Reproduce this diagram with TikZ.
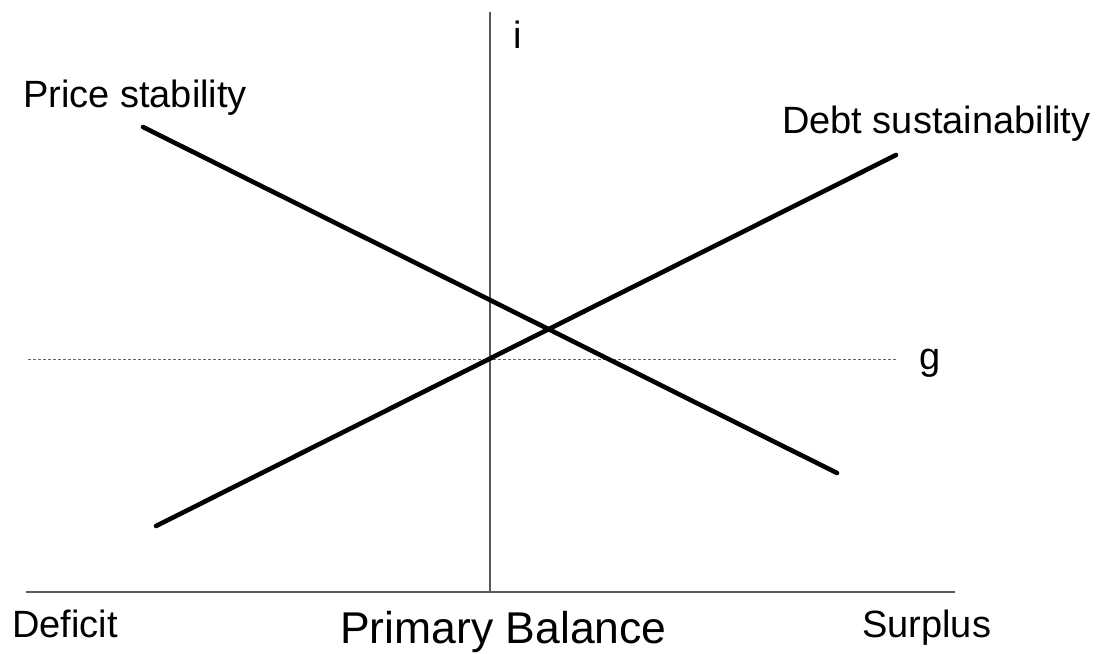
\documentclass[tikz,border=0pt]{standalone}
\usepackage{fontspec}
\setmainfont{Liberation Sans}
\begin{document}
\begin{tikzpicture}[x=1pt,y=-1pt,
  axis/.style={draw=black!65,line width=1.4pt},
  curve/.style={draw=black,line width=4.6pt,line cap=round},
  guide/.style={draw=black!60,line width=0.9pt,dash pattern=on 3pt off 2pt},
  lbl/.style={inner sep=0pt,font=\fontsize{38}{40}\selectfont},
  biglbl/.style={inner sep=0pt,font=\fontsize{44.5}{46}\selectfont}]
\useasboundingbox (0,0) rectangle (1099,653);
% axes
\coordinate (vtop) at (490,12);
\coordinate (vbot) at (490,592);
\coordinate (hl) at (26,592);
\coordinate (hr) at (955,592);
\draw[axis] (vtop) -- (vbot);
\draw[axis] (hl) -- (hr);
% dashed g line
\coordinate (gl) at (28,359);
\coordinate (gr) at (896,359);
\draw[guide] (gl) -- (gr);
% curves
\coordinate (ps1) at (143,127);
\coordinate (ps2) at (837,473);
\coordinate (ds1) at (156,526);
\coordinate (ds2) at (896,155);
\draw[curve] (ps1) -- (ps2);
\draw[curve] (ds1) -- (ds2);
% labels
\node[lbl,anchor=base west] (tps) at (23,107) {Price stability};
\node[lbl,anchor=base west] (tds) at (782,133) {Debt sustainability};
\node[lbl,anchor=base] (ti) at (518,48) {i};
\node[lbl,anchor=base] (tg) at (930,369) {g};
\node[lbl,anchor=base west] (tdef) at (12,637) {Deficit};
\node[lbl,anchor=base west] (tsur) at (862,637) {Surplus};
\node[biglbl,anchor=base west] (tpb) at (340,643) {Primary Balance};
\end{tikzpicture}
\end{document}
